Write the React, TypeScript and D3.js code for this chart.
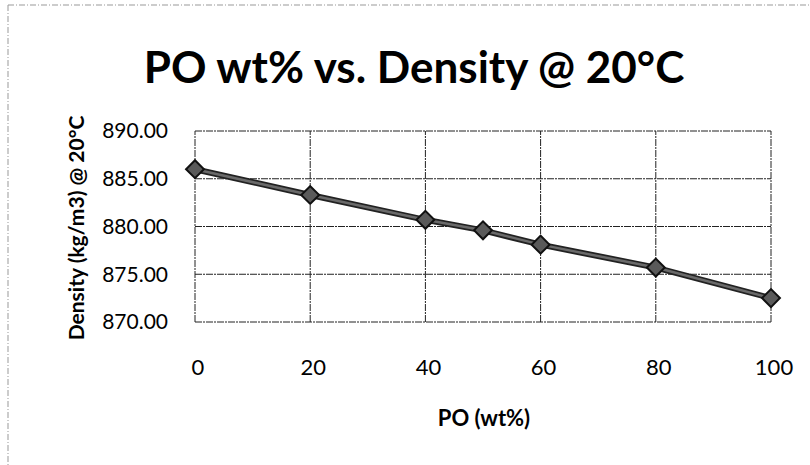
import React from "react";
import * as d3 from "d3";

const poWt: number[] = [0, 20, 40, 50, 60, 80, 100];
const density: number[] = [886.0, 883.3, 880.7, 879.6, 878.1, 875.7, 872.5];
const xTicks: number[] = [0, 20, 40, 60, 80, 100];
const yTicks: number[] = [870, 875, 880, 885, 890];
const title = "PO wt% vs. Density @ 20°C";
const xTitle = "PO (wt%)";
const yTitle = "Density (kg/m3) @ 20°C";

const W = 810;
const H = 465;
const FONT = "Lato, 'Open Sans', sans-serif";

export default function App() {
  const x = d3.scaleLinear().domain([0, 100]).range([195, 771]);
  const y = d3.scaleLinear().domain([870, 890]).range([322, 131]);
  const line = d3
    .line<number>()
    .x((_, i) => x(poWt[i]))
    .y((d) => y(d));
  const diamond = d3.symbol().type(d3.symbolSquare).size(160)() as string;

  return (
    <svg
      width={W}
      height={H}
      style={{ position: "absolute", left: 0, top: 0, background: "#fff" }}
    >
      <rect x={0} y={0} width={W} height={H} fill="#fff" />
      {/* scan frame */}
      <line x1={8} y1={5} x2={W} y2={5} stroke="#999" strokeWidth={1} strokeDasharray="6 2 1 2" />
      <line x1={8} y1={5} x2={8} y2={H} stroke="#999" strokeWidth={1} strokeDasharray="6 2 1 2" />

      <text x={414} y={83} textAnchor="middle" fontFamily={FONT} fontWeight="bold" fontSize={44} fill="#000">
        {title}
      </text>

      {/* gridlines */}
      {yTicks.map((t) => (
        <line key={"gy" + t} x1={x(0)} x2={x(100)} y1={y(t)} y2={y(t)} stroke="#222" strokeWidth={1} strokeDasharray="7 1 2 1" />
      ))}
      {xTicks.map((t) => (
        <line key={"gx" + t} x1={x(t)} x2={x(t)} y1={y(870)} y2={y(890)} stroke="#222" strokeWidth={1} strokeDasharray="7 1 2 1" />
      ))}

      {/* y tick labels */}
      {yTicks.map((t) => (
        <text key={"ty" + t} x={168} y={y(t)} dy="0.35em" textAnchor="end" fontFamily={FONT} fontSize={21} fill="#000">
          {t.toFixed(2)}
        </text>
      ))}
      {/* x tick labels */}
      {xTicks.map((t) => (
        <text key={"tx" + t} x={x(t) + 3} y={375} textAnchor="middle" fontFamily={FONT} fontSize={22} fill="#000">
          {String(t)}
        </text>
      ))}

      {/* series */}
      <path d={line(density) as string} fill="none" stroke="#222" strokeWidth={6} />
      <path d={line(density) as string} fill="none" stroke="#6a6a6a" strokeWidth={2.5} />
      {density.map((d, i) => (
        <path
          key={"m" + i}
          d={diamond}
          transform={`translate(${x(poWt[i])},${y(d)}) rotate(45)`}
          fill="#5a5a5a"
          stroke="#111"
          strokeWidth={2}
        />
      ))}

      <text x={484} y={426} textAnchor="middle" fontFamily={FONT} fontWeight="bold" fontSize={22} fill="#000">
        {xTitle}
      </text>
      <text
        transform={`translate(84,228) rotate(-90)`}
        textAnchor="middle"
        fontFamily={FONT}
        fontWeight="bold"
        fontSize={21}
        fill="#000"
      >
        {yTitle}
      </text>
    </svg>
  );
}
